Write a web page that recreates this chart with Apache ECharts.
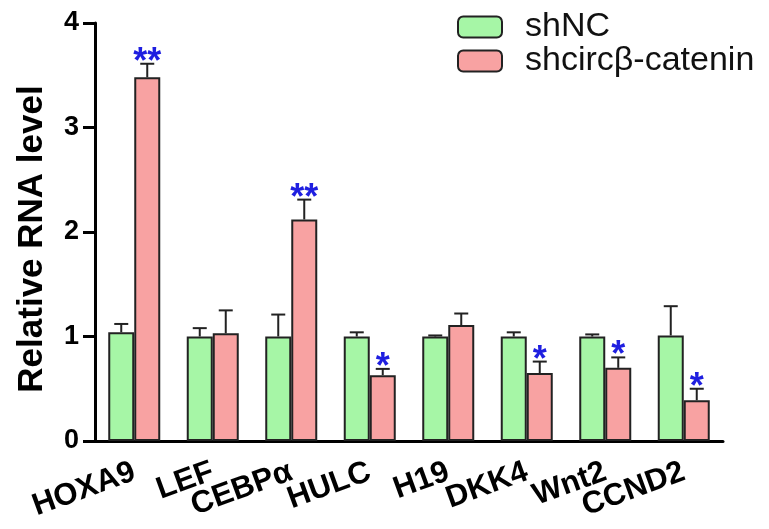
<!DOCTYPE html>
<html>
<head>
<meta charset="utf-8">
<script src="https://cdn.jsdelivr.net/npm/echarts@6/dist/echarts.min.js"></script>
<style>
html,body{margin:0;padding:0;background:#fff;}
#chart{width:769px;height:529px;}
</style>
</head>
<body>
<div id="chart"></div>
<script>
var categories = ['HOXA9', 'LEF', 'CEBPα', 'HULC', 'H19', 'DKK4', 'Wnt2', 'CCND2'];
var seriesNames = ['shNC', 'shcircβ-catenin'];
var shNC = [1.04, 1.00, 1.00, 1.00, 1.00, 1.00, 1.00, 1.01];
var shNCErr = [0.08, 0.08, 0.21, 0.04, 0.01, 0.04, 0.02, 0.28];
var shCirc = [3.48, 1.03, 2.12, 0.63, 1.11, 0.65, 0.70, 0.39];
var shCircErr = [0.13, 0.22, 0.19, 0.06, 0.11, 0.11, 0.10, 0.11];
var significance = ['**', '', '**', '*', '', '*', '*', '*'];
var yTicks = [0, 1, 2, 3, 4];

var FONT = '"Liberation Sans", Arial, Helvetica, sans-serif';
var GREEN = '#a6f6a6';
var PINK = '#f8a2a2';
var BAR_W = 26;

function errData(vals, errs) {
  return vals.map(function (v, i) { return [i, v, errs[i]]; });
}

function makeErrRender(offset, withStars) {
  return function (params, api) {
    var i = api.value(0);
    var v = api.value(1);
    var e = api.value(2);
    var base = api.coord([i, v]);
    var top = api.coord([i, v + e]);
    var x = base[0] + offset;
    var children = [
      { type: 'line', shape: { x1: x, y1: base[1], x2: x, y2: top[1] },
        style: { stroke: '#222', lineWidth: 2 } },
      { type: 'line', shape: { x1: x - 7, y1: top[1], x2: x + 7, y2: top[1] },
        style: { stroke: '#222', lineWidth: 2 } }
    ];
    if (withStars) {
      var s = significance[i];
      if (s) {
        children.push({ type: 'text', x: x, y: top[1] - 1,
          style: { text: s, fill: '#1f1fe0', font: 'bold 36px ' + FONT,
                   align: 'center', verticalAlign: 'middle' } });
      }
    }
    return { type: 'group', children: children };
  };
}

var chart = echarts.init(document.getElementById('chart'), null, { renderer: 'canvas' });
chart.setOption({
  animation: false,
  backgroundColor: '#fff',
  textStyle: { fontFamily: FONT },
  grid: { left: 95, right: 46, top: 23, bottom: 88, containLabel: false },
  legend: {
    orient: 'vertical',
    left: 452, top: 5,
    itemWidth: 44, itemHeight: 21,
    itemGap: 0,
    icon: 'roundRect',
    data: seriesNames,
    textStyle: { fontSize: 34, color: '#111', fontFamily: FONT, lineHeight: 30, padding: [0, 0, 0, 18] }
  },
  xAxis: {
    type: 'category',
    data: categories,
    axisLine: { lineStyle: { color: '#000', width: 3 } },
    axisTick: { show: false },
    axisLabel: { rotate: 20, fontSize: 31, fontWeight: 'bold', color: '#000', margin: 30, interval: 0, fontFamily: FONT }
  },
  yAxis: {
    type: 'value',
    min: 0, max: 4, interval: 1,
    name: 'Relative RNA level',
    nameLocation: 'middle',
    nameGap: 45,
    nameTextStyle: { fontSize: 35, fontWeight: 'bold', color: '#000', fontFamily: FONT, padding: [0, 0, 0, -14] },
    axisLine: { show: true, lineStyle: { color: '#000', width: 3 } },
    axisTick: { show: true, inside: false, length: 12, lineStyle: { color: '#000', width: 3 } },
    splitLine: { show: false },
    axisLabel: { fontSize: 27, fontWeight: 'bold', color: '#000', margin: 16, fontFamily: FONT,
      formatter: function (v) { return yTicks.indexOf(v) >= 0 ? String(v) : ''; } }
  },
  series: [
    { name: seriesNames[0], type: 'bar', data: shNC, barWidth: BAR_W, barGap: '0%',
      itemStyle: { color: GREEN, borderColor: '#222', borderWidth: 2 } },
    { name: seriesNames[1], type: 'bar', data: shCirc, barWidth: BAR_W, barGap: '0%',
      itemStyle: { color: PINK, borderColor: '#222', borderWidth: 2 } },
    { type: 'custom', data: errData(shNC, shNCErr), renderItem: makeErrRender(-BAR_W / 2, false),
      z: 5, silent: true },
    { type: 'custom', data: errData(shCirc, shCircErr), renderItem: makeErrRender(BAR_W / 2, true),
      z: 5, silent: true }
  ]
});
</script>
</body>
</html>
